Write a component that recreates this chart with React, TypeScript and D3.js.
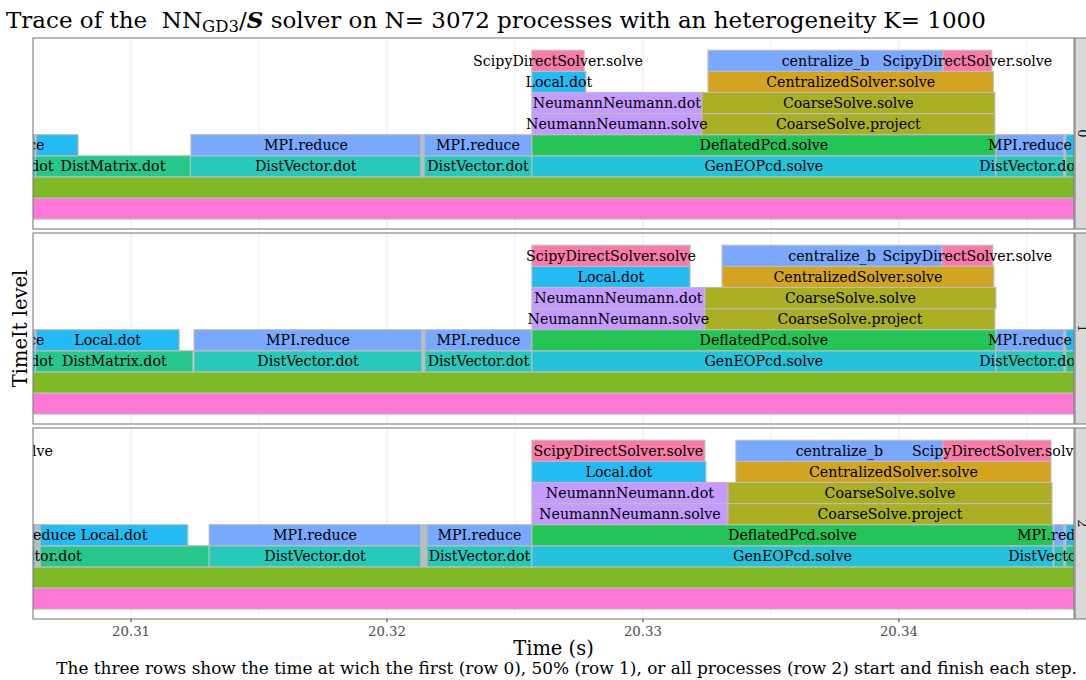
import React, { useMemo } from "react";
import * as d3 from "d3";

// [level, start (s), end (s), step name]
type Step = [number, number, number, string];

const rowNames = ["0", "1", "2"];

const row0Steps: Step[] = [
  [0, 20.3, 20.3525, "(level 0)"],
  [1, 20.3, 20.3525, "(level 1)"],
  [2, 20.30371, 20.30627, "DistVector.dot"],
  [2, 20.30627, 20.31232, "DistMatrix.dot"],
  [2, 20.31232, 20.32133, "DistVector.dot"],
  [2, 20.32133, 20.32145, "(sync)"],
  [2, 20.32145, 20.32566, "DistVector.dot"],
  [2, 20.32566, 20.34379, "GenEOPcd.solve"],
  [2, 20.34379, 20.34645, "DistVector.dot"],
  [2, 20.34645, 20.34652, "(sync)"],
  [2, 20.34652, 20.3525, "DistMatrix.dot"],
  [3, 20.30371, 20.30625, "MPI.reduce"],
  [3, 20.30625, 20.30629, "(sync)"],
  [3, 20.30629, 20.30793, "Local.dot"],
  [3, 20.31234, 20.32133, "MPI.reduce"],
  [3, 20.32133, 20.32145, "(sync)"],
  [3, 20.32145, 20.32566, "MPI.reduce"],
  [3, 20.32566, 20.34379, "DeflatedPcd.solve"],
  [3, 20.34379, 20.34645, "MPI.reduce"],
  [3, 20.34645, 20.34652, "(sync)"],
  [3, 20.34652, 20.3525, "Local.dot"],
  [4, 20.32566, 20.3323, "NeumannNeumann.solve"],
  [4, 20.3323, 20.34375, "CoarseSolve.project"],
  [5, 20.32566, 20.3323, "NeumannNeumann.dot"],
  [5, 20.3323, 20.34375, "CoarseSolve.solve"],
  [6, 20.32566, 20.32777, "Local.dot"],
  [6, 20.33254, 20.34369, "CentralizedSolver.solve"],
  [7, 20.32566, 20.3277, "ScipyDirectSolver.solve"],
  [7, 20.33254, 20.34172, "centralize_b"],
  [7, 20.34172, 20.34363, "ScipyDirectSolver.solve"],
];

const row1Steps: Step[] = [
  [0, 20.3, 20.3525, "(level 0)"],
  [1, 20.3, 20.3525, "(level 1)"],
  [2, 20.30371, 20.30627, "DistVector.dot"],
  [2, 20.30627, 20.31242, "DistMatrix.dot"],
  [2, 20.31246, 20.32137, "DistVector.dot"],
  [2, 20.32137, 20.32148, "(sync)"],
  [2, 20.32148, 20.32566, "DistVector.dot"],
  [2, 20.32566, 20.34379, "GenEOPcd.solve"],
  [2, 20.34379, 20.34645, "DistVector.dot"],
  [2, 20.34645, 20.34652, "(sync)"],
  [2, 20.34652, 20.3525, "DistMatrix.dot"],
  [3, 20.30371, 20.30625, "MPI.reduce"],
  [3, 20.30625, 20.30629, "(sync)"],
  [3, 20.30629, 20.31188, "Local.dot"],
  [3, 20.31246, 20.32137, "MPI.reduce"],
  [3, 20.32137, 20.32148, "(sync)"],
  [3, 20.32148, 20.32566, "MPI.reduce"],
  [3, 20.32566, 20.34379, "DeflatedPcd.solve"],
  [3, 20.34379, 20.34645, "MPI.reduce"],
  [3, 20.34645, 20.34652, "(sync)"],
  [3, 20.34652, 20.3525, "Local.dot"],
  [4, 20.32566, 20.33242, "NeumannNeumann.solve"],
  [4, 20.33242, 20.34375, "CoarseSolve.project"],
  [5, 20.32566, 20.33242, "NeumannNeumann.dot"],
  [5, 20.33242, 20.34379, "CoarseSolve.solve"],
  [6, 20.32566, 20.33184, "Local.dot"],
  [6, 20.33309, 20.34371, "CentralizedSolver.solve"],
  [7, 20.32566, 20.33184, "ScipyDirectSolver.solve"],
  [7, 20.33309, 20.34168, "centralize_b"],
  [7, 20.34168, 20.34367, "ScipyDirectSolver.solve"],
];

const row2Steps: Step[] = [
  [0, 20.3, 20.3525, "(level 0)"],
  [1, 20.3, 20.3525, "(level 1)"],
  [2, 20.30527, 20.30691, "DistVector.dot"],
  [2, 20.30625, 20.30645, "(sync)"],
  [2, 20.30645, 20.31305, "DistMatrix.dot"],
  [2, 20.31305, 20.32133, "DistVector.dot"],
  [2, 20.32133, 20.32156, "(sync)"],
  [2, 20.32156, 20.32566, "DistVector.dot"],
  [2, 20.32566, 20.34602, "GenEOPcd.solve"],
  [2, 20.34605, 20.34645, "DistVector.dot"],
  [2, 20.34645, 20.34652, "(sync)"],
  [2, 20.34652, 20.3525, "DistMatrix.dot"],
  [3, 20.30488, 20.30754, "MPI.reduce"],
  [3, 20.30625, 20.30645, "(sync)"],
  [3, 20.30645, 20.31222, "Local.dot"],
  [3, 20.31305, 20.32133, "MPI.reduce"],
  [3, 20.32133, 20.32156, "(sync)"],
  [3, 20.32156, 20.32566, "MPI.reduce"],
  [3, 20.32566, 20.34602, "DeflatedPcd.solve"],
  [3, 20.34605, 20.34645, "MPI.reduce"],
  [3, 20.34645, 20.34652, "(sync)"],
  [3, 20.34652, 20.3525, "Local.dot"],
  [4, 20.32566, 20.33332, "NeumannNeumann.solve"],
  [4, 20.33332, 20.34598, "CoarseSolve.project"],
  [5, 20.32566, 20.33332, "NeumannNeumann.dot"],
  [5, 20.33332, 20.34598, "CoarseSolve.solve"],
  [6, 20.32566, 20.33246, "Local.dot"],
  [6, 20.33363, 20.34594, "CentralizedSolver.solve"],
  [7, 20.30254, 20.30473, "ScipyDirectSolver.solve"],
  [7, 20.32566, 20.33242, "ScipyDirectSolver.solve"],
  [7, 20.33363, 20.34172, "centralize_b"],
  [7, 20.34172, 20.34594, "ScipyDirectSolver.solve"],
];

const rowSteps = [row0Steps, row1Steps, row2Steps];

const stepNames = [
  "(level 0)", "(level 1)", "(sync)", "GenEOPcd.solve", "DistVector.dot", "DistMatrix.dot",
  "DeflatedPcd.solve", "MPI.reduce", "Local.dot", "NeumannNeumann.solve", "NeumannNeumann.dot",
  "CoarseSolve.project", "CoarseSolve.solve", "CentralizedSolver.solve", "centralize_b",
  "ScipyDirectSolver.solve",
];
const stepColors = [
  "#FC77D6", "#7FBA26", "#BDBDBD", "#25C3DB", "#28C9BB", "#27C68A",
  "#25C456", "#78A9FF", "#24BAF3", "#C59BFF", "#C59BFF",
  "#AAAF23", "#AAAF23", "#D2A422", "#7AA8FF",
  "#F87BA9",
];
const unlabelled = ["(level 0)", "(level 1)", "(sync)"];

const xDomain = [20.30617, 20.34684];
const xTicks = [20.31, 20.32, 20.33, 20.34];
const xMinorTicks = [20.305, 20.315, 20.325, 20.335, 20.345];
const levelDomain = [-0.47, 8.58];

const FONT = '"DejaVu Serif", serif';
const LABEL_SIZE = 14.2;

const W = 1086;
const H = 680;
const panelLeft = 33;
const panelRight = 1074;
const panelTops = [38, 233, 428];
const panelH = 191;

export default function App() {
  const x = d3.scaleLinear().domain(xDomain).range([panelLeft, panelRight]);
  const y = d3.scaleLinear().domain(levelDomain).range([panelH, 0]);
  const color = d3.scaleOrdinal<string, string>().domain(stepNames).range(stepColors);

  const measure = useMemo(() => {
    const ctx = document.createElement("canvas").getContext("2d")!;
    ctx.font = `${LABEL_SIZE}px ${FONT}`;
    return (s: string) => ctx.measureText(s).width;
  }, []);

  // ggplot-like check_overlap: a label that would overlap an earlier one on the same level is skipped
  const labelsPerRow = rowSteps.map((steps) => {
    const drawn: { l: number; a: number; b: number; cx: number; name: string }[] = [];
    steps.forEach(([lvl, s, e, name]) => {
      if (unlabelled.includes(name)) return;
      const cx = x((s + e) / 2);
      const w = measure(name);
      const a = cx - w / 2;
      const b = cx + w / 2;
      if (drawn.some((d) => d.l === lvl && a < d.b && b > d.a)) return;
      drawn.push({ l: lvl, a, b, cx, name });
    });
    return drawn;
  });

  return (
    <svg width={W} height={H} style={{ position: "absolute", left: 0, top: 0, background: "#fff" }} fontFamily={FONT}>
      <defs>
        {panelTops.map((t, i) => (
          <clipPath id={`clip${i}`} key={i}>
            <rect x={panelLeft} y={t} width={panelRight - panelLeft} height={panelH} />
          </clipPath>
        ))}
      </defs>
      <text x={6} y={28} fontSize={23} fill="#000" style={{ whiteSpace: "pre" }}>
        <tspan>{"Trace of the  NN"}</tspan>
        <tspan fontSize={16.5} dy={4}>GD3</tspan>
        <tspan dy={-4}>/</tspan>
        <tspan fontWeight="bold" fontStyle="italic">S</tspan>
        <tspan>{" solver on N= 3072 processes with an heterogeneity K= 1000"}</tspan>
      </text>

      {panelTops.map((top, pi) => (
        <g key={pi}>
          <rect x={panelLeft} y={top} width={panelRight - panelLeft} height={panelH} fill="#fff" />
          <g clipPath={`url(#clip${pi})`}>
            {xMinorTicks.map((t) => (
              <line key={`m${t}`} x1={x(t)} x2={x(t)} y1={top} y2={top + panelH} stroke="#F0F0F0" strokeWidth={1} />
            ))}
            {xTicks.map((t) => (
              <line key={`M${t}`} x1={x(t)} x2={x(t)} y1={top} y2={top + panelH} stroke="#EBEBEB" strokeWidth={1.1} />
            ))}
            {rowSteps[pi].map(([lvl, s, e, name], k) => (
              <rect
                key={k}
                x={x(s)}
                width={Math.max(0, x(e) - x(s))}
                y={top + y(lvl + 1)}
                height={y(lvl) - y(lvl + 1)}
                fill={color(name)}
                stroke="#BDBDBD"
                strokeWidth={1.1}
              />
            ))}
            {labelsPerRow[pi].map((d, k) => (
              <text
                key={k}
                x={d.cx}
                y={top + (y(d.l) + y(d.l + 1)) / 2}
                textAnchor="middle"
                dominantBaseline="central"
                fontSize={LABEL_SIZE}
                fill="#000"
              >
                {d.name}
              </text>
            ))}
          </g>
          <rect x={panelLeft} y={top} width={panelRight - panelLeft} height={panelH} fill="none" stroke="#7F7F7F" strokeWidth={1.1} />
          <rect x={panelRight + 1} y={top} width={30} height={panelH} fill="#D9D9D9" stroke="#7F7F7F" strokeWidth={1.1} />
          <text
            transform={`translate(${panelRight + 8},${top + panelH / 2}) rotate(90)`}
            textAnchor="middle"
            dominantBaseline="central"
            fontSize={13}
            fill="#1A1A1A"
          >
            {rowNames[pi]}
          </text>
        </g>
      ))}

      {xTicks.map((t) => (
        <g key={t}>
          <line x1={x(t)} x2={x(t)} y1={panelTops[2] + panelH} y2={panelTops[2] + panelH + 3} stroke="#333" strokeWidth={1} />
          <text x={x(t)} y={636} textAnchor="middle" fontSize={13.3} fill="#4D4D4D">
            {d3.format(".2f")(t)}
          </text>
        </g>
      ))}

      <text x={(panelLeft + panelRight) / 2} y={655} textAnchor="middle" fontSize={19.5} fill="#000">
        Time (s)
      </text>
      <text transform={`translate(27,${(panelTops[0] + panelTops[2] + panelH) / 2}) rotate(-90)`} textAnchor="middle" fontSize={19.5} fill="#000">
        TimeIt level
      </text>
      <text x={1077} y={674} textAnchor="end" fontSize={16.9} fill="#000">
        The three rows show the time at wich the first (row 0), 50% (row 1), or all processes (row 2) start and finish each step.
      </text>
    </svg>
  );
}
